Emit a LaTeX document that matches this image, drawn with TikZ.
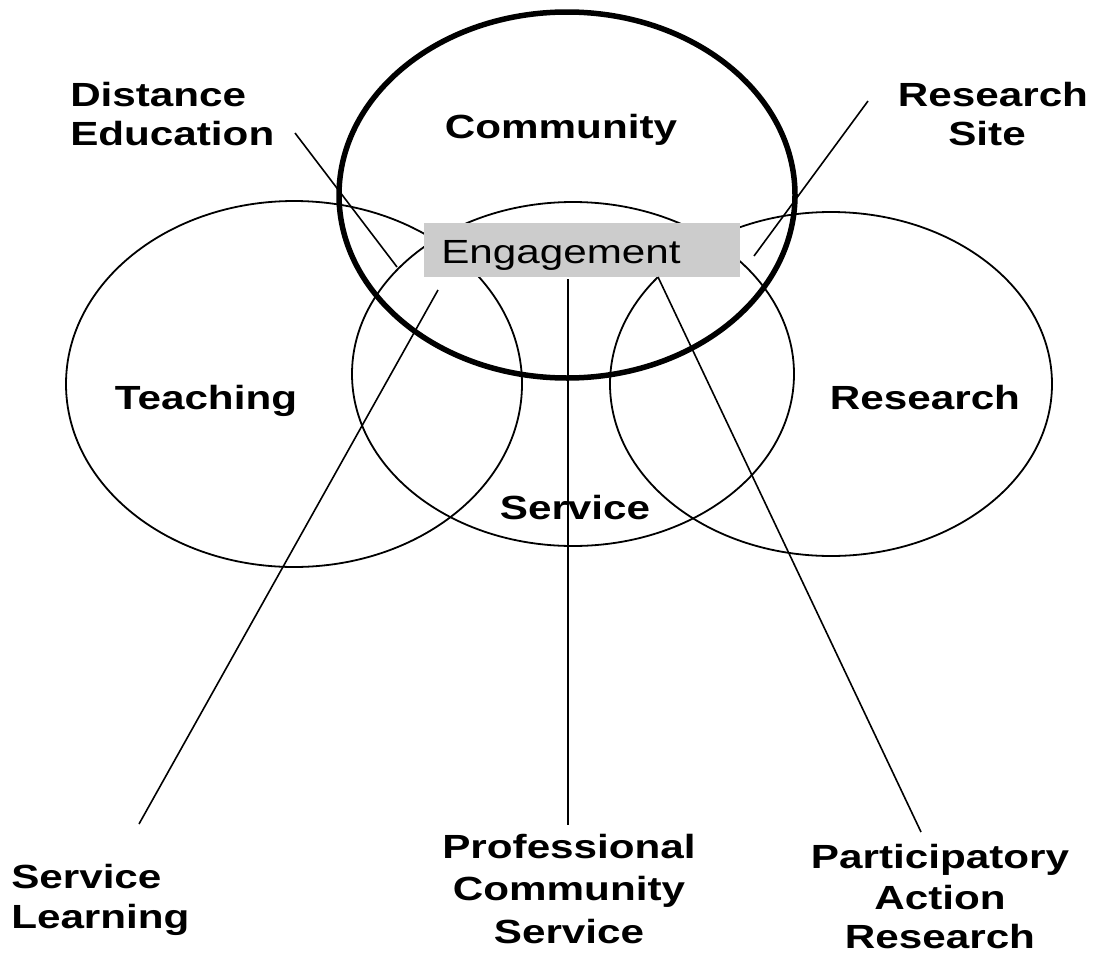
\documentclass[tikz,border=0pt]{standalone}
\usepackage{fontspec}
\setmainfont{Liberation Sans}
\begin{document}
\begin{tikzpicture}[x=1pt,y=-1pt,
  lbl/.style={font=\fontsize{33.5}{40}\selectfont\bfseries, inner sep=0pt, xscale=1.26},
  plainlbl/.style={font=\fontsize{33.5}{40}\selectfont, inner sep=0pt, xscale=1.26},
  ell/.style={draw=black, line width=1.8pt},
  comm/.style={draw=black, line width=5.5pt},
  conn/.style={draw=black, line width=1.6pt},
  engbox/.style={fill=black!20, draw=none}]
\useasboundingbox (0,0) rectangle (1099,953);
\fill[white] (0,0) rectangle (1099,953);

% circles
\draw[ell] (294,384) ellipse [x radius=228pt, y radius=183pt];
\draw[ell] (573,374) ellipse [x radius=221pt, y radius=172pt];
\draw[ell] (831,384) ellipse [x radius=221pt, y radius=172pt];
\draw[comm] (567,195) ellipse [x radius=228pt, y radius=183pt];

% engagement box
\node[engbox, minimum width=316pt, minimum height=54pt, inner sep=0pt] (engbox) at (582,250) {};
\node[plainlbl, anchor=base west] (eng) at (441,263) {Engagement};

% circle labels
\node[lbl, anchor=base] (community) at (561,138) {Community};
\node[lbl, anchor=base] (teaching) at (206,409) {Teaching};
\node[lbl, anchor=base] (research) at (925,409) {Research};
\node[lbl, anchor=base] (service) at (575,519) {Service};

% outer labels
\node[lbl, anchor=base west] (de1) at (70,106) {Distance};
\node[lbl, anchor=base west] (de2) at (70,145) {Education};
\node[lbl, anchor=base] (rs1) at (993,106) {Research};
\node[lbl, anchor=base] (rs2) at (987,145) {Site};
\node[lbl, anchor=base west] (sl1) at (11,888) {Service};
\node[lbl, anchor=base west] (sl2) at (11,928) {Learning};
\node[lbl, anchor=base] (pc1) at (569,858) {Professional};
\node[lbl, anchor=base] (pc2) at (569,900) {Community};
\node[lbl, anchor=base] (pc3) at (569,943) {Service};
\node[lbl, anchor=base] (pa1) at (940,868) {Participatory};
\node[lbl, anchor=base] (pa2) at (940,909) {Action};
\node[lbl, anchor=base] (pa3) at (940,948) {Research};

% connector end points
\coordinate (deA) at (295,133);
\coordinate (deB) at (397,267);
\coordinate (rsA) at (868,101);
\coordinate (rsB) at (754,256);
\coordinate (slA) at (438,290);
\coordinate (slB) at (139,824);
\coordinate (pcA) at (568,279);
\coordinate (pcB) at (568,825);
\coordinate (paA) at (658,277);
\coordinate (paB) at (921,832);

\draw[conn] (deA) -- (deB);
\draw[conn] (rsA) -- (rsB);
\draw[conn] (slA) -- (slB);
\draw[conn] (pcA) -- (pcB);
\draw[conn] (paA) -- (paB);
\end{tikzpicture}
\end{document}
